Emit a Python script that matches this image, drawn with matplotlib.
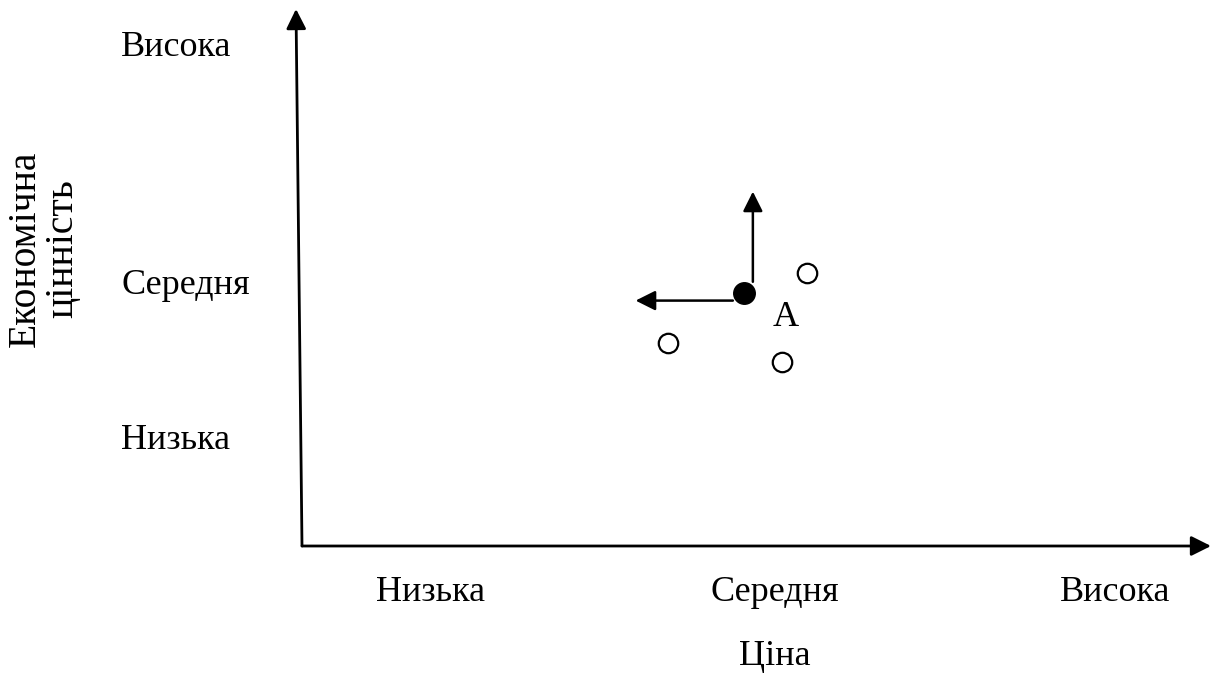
import matplotlib.pyplot as plt

plt.rcParams['font.family'] = ['Liberation Serif', 'DejaVu Serif']

# Axis level labels
x_levels = ['Низька', 'Середня', 'Висока']
x_level_pos = [0.141, 0.520, 0.894]
y_levels = ['Висока', 'Середня', 'Низька']
y_level_pos = [0.929, 0.486, 0.197]

# Product A (filled) and competitors (open)
a_x, a_y = 0.486, 0.471
comp_x = [0.556, 0.403, 0.528]
comp_y = [0.508, 0.378, 0.343]

# Direction arrows from A
up_x, up_y0, up_y1 = 0.496, 0.492, 0.660
left_y, left_x0, left_x1 = 0.457, 0.474, 0.367

fig = plt.figure(figsize=(12.12, 6.95), dpi=100)
ax = fig.add_axes([302 / 1212, 149 / 695, 909 / 1212, 537 / 695])
ax.set_xlim(0, 1)
ax.set_ylim(0, 1)
ax.axis('off')

axis_arrow = dict(arrowstyle='-|>,head_length=0.6,head_width=0.3', color='black',
                  lw=2, mutation_scale=20, shrinkA=0, shrinkB=0)
ax.annotate('', xy=(1.0, 0), xytext=(0, 0), arrowprops=axis_arrow, annotation_clip=False)
ax.annotate('', xy=(-0.0066, 1.0), xytext=(0, 0), arrowprops=axis_arrow, annotation_clip=False)

small_arrow = dict(arrowstyle='-|>,head_length=0.6,head_width=0.3', color='black',
                   lw=1.8, mutation_scale=20, shrinkA=0, shrinkB=0)
ax.annotate('', xy=(up_x, up_y1), xytext=(up_x, up_y0), arrowprops=small_arrow)
ax.annotate('', xy=(left_x1, left_y), xytext=(left_x0, left_y), arrowprops=small_arrow)

ax.plot(comp_x, comp_y, 'o', ms=14, mfc='white', mec='black', mew=1.6, ls='none')
ax.plot([a_x], [a_y], 'o', ms=15.5, color='black')
ax.text(0.532, 0.426, 'A', fontsize=26, ha='center', va='center')

for lab, pos in zip(x_levels, x_level_pos):
    ax.text(pos, -0.0875, lab, fontsize=26, ha='center', va='center', clip_on=False)
for lab, pos in zip(y_levels, y_level_pos):
    ax.text(-0.199, pos, lab, fontsize=26, ha='left', va='center', clip_on=False)

ax.text(0.520, -0.205, 'Ціна', fontsize=26, ha='center', va='center', clip_on=False)
ax.text(-0.284, 0.553, 'Економічна\nцінність', fontsize=28.5, ha='center', va='center',
        rotation=90, linespacing=1.0, clip_on=False)

fig.savefig('out.png', dpi=100)
